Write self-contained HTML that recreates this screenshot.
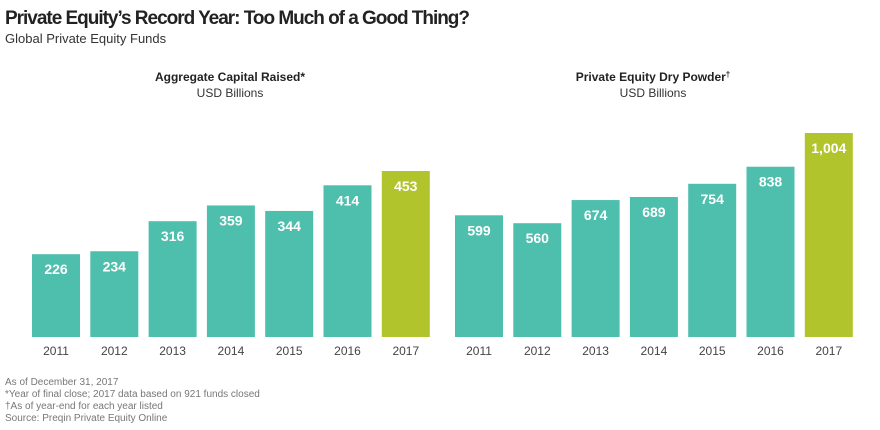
<!DOCTYPE html>
<html><head><meta charset="utf-8"><style>
body{margin:0;background:#fff;width:880px;height:425px;overflow:hidden;font-family:"Liberation Sans",sans-serif}
</style></head><body>
<svg id="c" width="880" height="425" xmlns="http://www.w3.org/2000/svg">
<text x="5" y="24" font-size="19" font-weight="bold" fill="#222" textLength="465">Private Equity’s Record Year: Too Much of a Good Thing?</text>
<text x="5" y="43" font-size="13" fill="#333">Global Private Equity Funds</text>
<text x="230" y="81" font-size="12" font-weight="bold" fill="#222" text-anchor="middle">Aggregate Capital Raised*</text>
<text x="230" y="97" font-size="12" fill="#333" text-anchor="middle">USD Billions</text>
<text x="653" y="81" font-size="12" font-weight="bold" fill="#222" text-anchor="middle">Private Equity Dry Powder<tspan font-size="8" dy="-4">†</tspan></text>
<text x="653" y="97" font-size="12" fill="#333" text-anchor="middle">USD Billions</text>
<g font-size="10" fill="#777">
<text x="5" y="385">As of December 31, 2017</text>
<text x="5" y="397">*Year of final close; 2017 data based on 921 funds closed</text>
<text x="5" y="409">†As of year-end for each year listed</text>
<text x="5" y="421">Source: Preqin Private Equity Online</text>
</g>
</svg>
<script>
const years = ["2011","2012","2013","2014","2015","2016","2017"];
const capitalRaised = [226,234,316,359,344,414,453];
const capitalLabels = ["226","234","316","359","344","414","453"];
const dryPowder = [599,560,674,689,754,838,1004];
const powderLabels = ["599","560","674","689","754","838","1,004"];
const svg = document.getElementById('c');
const NS = "http://www.w3.org/2000/svg";
const base = 337;
function drawPanel(vals, labels, x0, scale, prefix){
  const step = 58.3, bw = 48;
  vals.forEach((v,i)=>{
    const h = v*scale, x = x0 + i*step;
    const r = document.createElementNS(NS,'rect');
    r.setAttribute('x',x); r.setAttribute('y',base-h);
    r.setAttribute('width',bw); r.setAttribute('height',h);
    r.setAttribute('fill', i===vals.length-1 ? '#b1c42b' : '#4fbfad');
    
    
    svg.appendChild(r);
    const t = document.createElementNS(NS,'text');
    t.setAttribute('x',x+bw/2); t.setAttribute('y',base-h+20);
    t.setAttribute('text-anchor','middle'); t.setAttribute('font-size','14');
    t.setAttribute('font-weight','bold'); t.setAttribute('fill','#fff');
    t.textContent = labels[i];
    
    
    svg.appendChild(t);
    const y = document.createElementNS(NS,'text');
    y.setAttribute('x',x+bw/2); y.setAttribute('y',355);
    y.setAttribute('text-anchor','middle'); y.setAttribute('font-size','12');
    y.setAttribute('fill','#444');
    y.textContent = years[i];
    
    
    svg.appendChild(y);
  });
}
drawPanel(capitalRaised, capitalLabels, 32, 166/453, 'capital');
drawPanel(dryPowder, powderLabels, 455, 204/1004, 'powder');
</script>
</body></html>
